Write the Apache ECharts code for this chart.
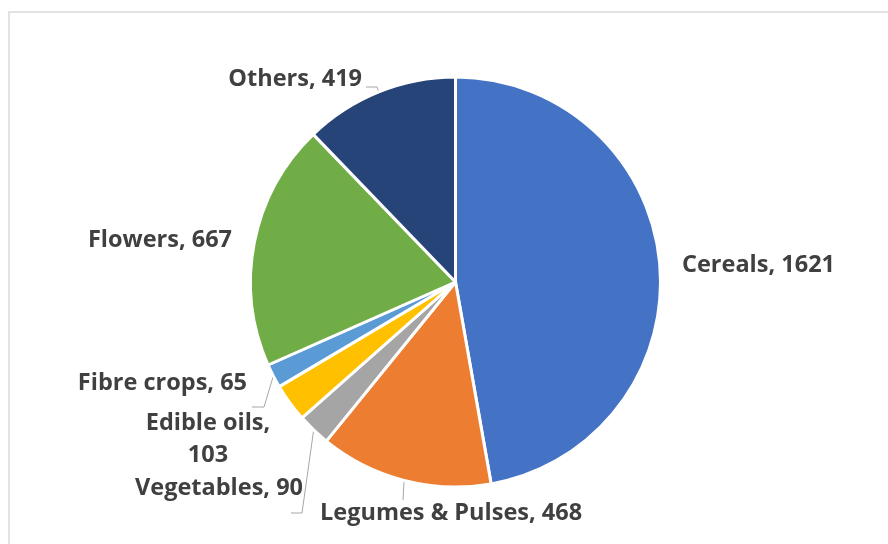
<!DOCTYPE html>
<html>
<head>
<meta charset="utf-8">
<script src="https://cdn.jsdelivr.net/npm/echarts@6/dist/echarts.min.js"></script>
<style>html,body{margin:0;padding:0;background:#fff;}#c{width:888px;height:544px;}</style>
</head>
<body>
<div id="c"></div>
<script>
const categories = ['Cereals', 'Legumes & Pulses', 'Vegetables', 'Edible oils', 'Fibre crops', 'Flowers', 'Others'];
const values = [1621, 468, 90, 103, 65, 667, 419];
const colors = ['#4472C4', '#ED7D31', '#A5A5A5', '#FFC000', '#5B9BD5', '#70AD47', '#264478'];
const labelTexts = ['Cereals, 1621', 'Legumes & Pulses, 468', 'Vegetables, 90', 'Edible oils,\n103', 'Fibre crops, 65', 'Flowers, 667', 'Others, 419'];

// label placement (style): anchor x, anchor y, align
const labelPlace = [
  [682, 265, 'left'],
  [320, 513, 'left'],
  [303, 488, 'right'],
  [208, 439, 'center'],
  [247, 383, 'right'],
  [232, 240, 'right'],
  [362, 79, 'right']
];
// leader-line bends relative to label anchor (style); null = no line
const lineBends = [
  null,
  [[83, -13]],
  [[-1, 25], [-12, 25]],
  null,
  [[17, 24], [5, 24]],
  null,
  [[15, 8], [4, 8]]
];

const chart = echarts.init(document.getElementById('c'), null, {renderer: 'canvas'});
const data = categories.map((c, i) => ({
  name: c,
  value: values[i],
  itemStyle: {color: colors[i]},
  label: {formatter: labelTexts[i]},
  labelLine: {show: lineBends[i] !== null}
}));
chart.setOption({
  animation: false,
  graphic: [{
    type: 'rect', shape: {x: 9, y: 12, width: 1000, height: 1000},
    style: {fill: 'none', stroke: '#d9d9d9', lineWidth: 1.5}, silent: true
  }],
  series: [{
    type: 'pie',
    center: [455.5, 282],
    radius: [0, 205],
    startAngle: 90,
    clockwise: true,
    data: data,
    itemStyle: {borderColor: '#fff', borderWidth: 3},
    label: {
      show: true,
      fontFamily: 'Open Sans',
      fontWeight: 'bold',
      fontSize: 23.5,
      color: '#404040',
      lineHeight: 32
    },
    labelLine: {lineStyle: {color: '#a6a6a6', width: 1}, length: 10, length2: 10},
    labelLayout: function (params) {
      const i = params.dataIndex;
      const p = labelPlace[i];
      const out = {x: p[0], y: p[1], align: p[2], verticalAlign: 'middle'};
      const b = lineBends[i];
      if (b && params.labelLinePoints) {
        const start = params.labelLinePoints[0];
        out.labelLinePoints = [start].concat(b.map(d => [p[0] + d[0], p[1] + d[1]]));
      }
      return out;
    }
  }]
});
</script>
</body>
</html>
